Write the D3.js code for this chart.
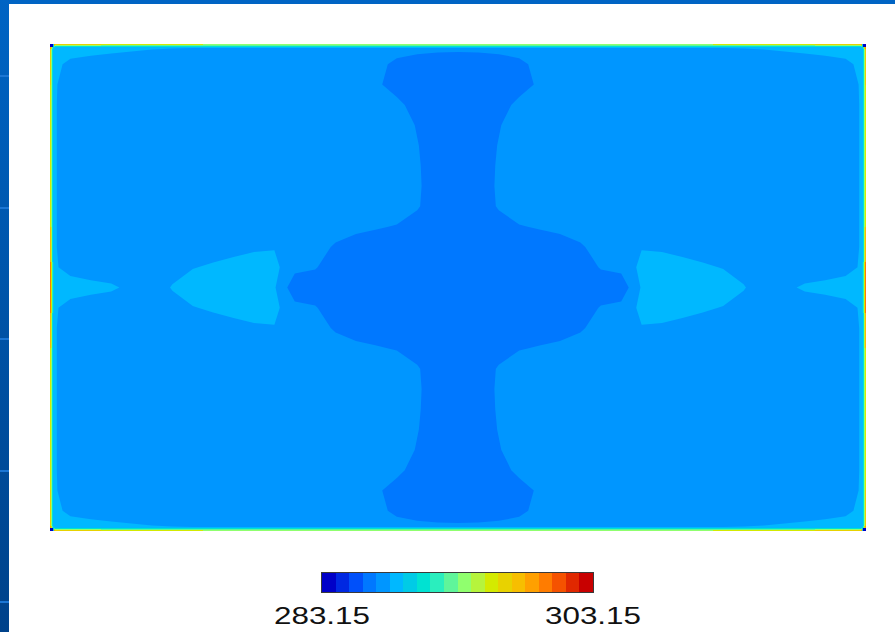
<!DOCTYPE html>
<html>
<head>
<meta charset="utf-8">
<script src="https://cdn.jsdelivr.net/npm/d3@7"></script>
<style>
  html, body { margin: 0; padding: 0; background: #fff; }
  svg { display: block; }
</style>
</head>
<body>
<svg id="chart" width="895" height="632"></svg>
<script>
// Enclosure size (m) and spacing of the temperature nodes (m).
const spanX = 8.0;
const spanY = 4.8;
const nodeStep = 0.2;

// Nodal temperatures (K). The field is symmetric about both mid-planes, so one quarter
// is stored: rows run from the top wall down to mid-height, columns from the left wall
// to mid-width.
const quarterT = [
  [288.8, 288.49, 288.43, 288.39, 288.36, 288.30, 288.28, 288.275, 288.2, 287.65, 287.65, 287.65, 287.65, 287.65, 287.65, 287.65, 287.65, 287.5, 287.4, 287.36, 287.35],
  [288.36, 288.02, 287.95, 287.875, 287.8, 287.75, 287.7, 287.65, 287.65, 287.65, 287.65, 287.65, 287.65, 287.65, 287.65, 287.65, 287.34, 287.0, 286.9, 286.86, 286.85],
  [288.36, 287.78, 287.65, 287.65, 287.65, 287.65, 287.65, 287.65, 287.65, 287.65, 287.65, 287.65, 287.65, 287.65, 287.65, 287.65, 287.25, 286.9, 286.6, 286.4, 286.4],
  [288.4, 287.65, 287.65, 287.65, 287.65, 287.65, 287.65, 287.65, 287.65, 287.65, 287.65, 287.65, 287.65, 287.65, 287.65, 287.65, 287.6, 287.31, 286.9, 286.4, 286.4],
  [288.4, 287.65, 287.65, 287.65, 287.65, 287.65, 287.65, 287.65, 287.65, 287.65, 287.65, 287.65, 287.65, 287.65, 287.65, 287.65, 287.65, 287.59, 287.09, 286.575, 286.4],
  [288.4, 287.65, 287.65, 287.65, 287.65, 287.65, 287.65, 287.65, 287.65, 287.65, 287.65, 287.65, 287.65, 287.65, 287.65, 287.65, 287.65, 287.65, 287.19, 286.7, 286.4],
  [288.4, 287.65, 287.65, 287.65, 287.65, 287.65, 287.65, 287.65, 287.65, 287.65, 287.65, 287.65, 287.65, 287.65, 287.65, 287.65, 287.65, 287.65, 287.24, 286.725, 286.4],
  [288.4, 287.65, 287.65, 287.65, 287.65, 287.65, 287.65, 287.65, 287.65, 287.65, 287.65, 287.65, 287.65, 287.65, 287.65, 287.65, 287.65, 287.65, 287.26, 286.75, 286.4],
  [288.4, 287.65, 287.65, 287.65, 287.65, 287.65, 287.65, 287.65, 287.65, 287.65, 287.65, 287.65, 287.65, 287.65, 287.65, 287.65, 287.65, 287.59, 287.225, 286.71, 286.4],
  [288.4, 287.65, 287.65, 287.65, 287.65, 287.65, 287.65, 287.65, 287.65, 287.65, 287.65, 287.65, 287.65, 287.65, 287.5, 287.32, 287.22, 287.1, 286.825, 286.525, 286.4],
  [288.4, 287.65, 287.65, 287.65, 287.65, 287.65, 287.65, 287.65, 287.765, 287.9, 288.025, 288.1, 287.8, 287.47, 287.05, 286.85, 286.72, 286.6, 286.4, 286.4, 286.4],
  [288.3, 287.94, 287.83, 287.73, 287.65, 287.65, 287.83, 288.11, 288.265, 288.4, 288.525, 288.4, 287.45, 287.21, 286.7, 286.4, 286.4, 286.4, 286.4, 286.4, 286.4],
  [288.8, 288.43, 288.33, 288.25, 288.0, 287.7, 288.21, 288.55, 288.75, 288.8, 288.7, 288.25, 286.5, 286.675, 286.48, 286.4, 286.4, 286.4, 286.4, 286.4, 286.4]
];

// Temperatures in the thin boundary layers next to the walls (K), one row per layer
// from the wall surface inwards. Stations (m) run from a corner to mid-span.
const topWallStations = [0, 0.05, 0.5, 1.5, 4.0];
const topWallLayers = [
  [298.6, 296.8, 295.3, 293.8],
  [295.5, 293.5, 292.5, 292.2],
  [291.5, 290.5, 290.2, 290.2],
  [289.5, 288.6, 288.6, 288.6]
];
const sideWallStations = [0, 0.05, 0.4, 1.8, 2.15, 2.4];
const sideWallLayers = [
  [298.6, 296.8, 295.5, 297.5, 299.6],
  [295.5, 293.8, 293.5, 294.5, 295.5],
  [291.5, 290.5, 290.3, 290.8, 291.5],
  [289.5, 288.6, 288.6, 288.7, 289.2]
];
const cornerT = 283.6;

// Colour map: 20 bands of 1 K between 283.15 and 303.15.
const levelMin = 283.15;
const levelMax = 303.15;
const bandLevels = [283.15, 284.15, 285.15, 286.15, 287.15, 288.15, 289.15, 290.15, 291.15, 292.15,
                    293.15, 294.15, 295.15, 296.15, 297.15, 298.15, 299.15, 300.15, 301.15, 302.15];
const bandColors = ["#0000c8", "#0028e2", "#0050fa", "#0078ff", "#0096ff", "#00b8ff", "#00cbe6", "#00e2d2",
                    "#2aeebe", "#5ff59a", "#90ff6e", "#b6f43c", "#d4ea00", "#e8d200", "#f7be00", "#ffa000",
                    "#ff7c00", "#f55200", "#e02800", "#c80000"];
const tickLabels = ["283.15", "303.15"];

const svg = d3.select("#chart");
const defs = svg.append("defs");

// Slide frame
const frameGrad = defs.append("linearGradient").attr("id", "frameGrad")
  .attr("x1", 0).attr("y1", 0).attr("x2", 0).attr("y2", 1);
frameGrad.append("stop").attr("offset", 0).attr("stop-color", "#0064c4");
frameGrad.append("stop").attr("offset", 1).attr("stop-color", "#00428a");
svg.append("rect").attr("width", 895).attr("height", 632).attr("fill", "#ffffff");
svg.append("rect").attr("x", 0).attr("y", 0).attr("width", 895).attr("height", 4).attr("fill", "#0064c4");
svg.append("rect").attr("x", 0).attr("y", 0).attr("width", 9).attr("height", 632).attr("fill", "url(#frameGrad)");
svg.append("g").selectAll("rect").data([75, 207, 338, 470, 601]).join("rect")
  .attr("x", 0).attr("y", d => d).attr("width", 9).attr("height", 2)
  .attr("fill", "#1c76d4");

// Plot scales
const plot = { left: 50, right: 866, top: 44, bottom: 531 };
const x = d3.scaleLinear().domain([0, spanX]).range([plot.left, plot.right]);
const y = d3.scaleLinear().domain([0, spanY]).range([plot.bottom, plot.top]);
const color = d3.scaleThreshold().domain(bandLevels.slice(1)).range(bandColors);

defs.append("clipPath").attr("id", "plotClip")
  .append("rect")
  .attr("x", plot.left).attr("y", plot.top)
  .attr("width", plot.right - plot.left).attr("height", plot.bottom - plot.top);

// Full nodal grid, unfolded from the stored quarter.
const nRows = quarterT.length * 2 - 1;
const nCols = quarterT[0].length * 2 - 1;
const grid = new Array(nRows * nCols);
for (let j = 0; j < nRows; j++) {
  const jq = Math.min(j, nRows - 1 - j);
  for (let i = 0; i < nCols; i++) {
    const iq = Math.min(i, nCols - 1 - i);
    grid[j * nCols + i] = quarterT[jq][iq];
  }
}

// Filled isotherm bands
const bands = d3.contours().size([nCols, nRows]).thresholds(bandLevels)(grid);
const gridToPlot = d3.geoTransform({
  point(gx, gy) {
    this.stream.point(x((gx - 0.5) * nodeStep), y(spanY - (gy - 0.5) * nodeStep));
  }
});
const bandPath = d3.geoPath(gridToPlot);

const field = svg.append("g").attr("clip-path", "url(#plotClip)");
field.selectAll("path")
  .data(bands.filter(b => b.coordinates.length))
  .join("path")
  .attr("d", bandPath)
  .attr("fill-rule", "evenodd")
  .attr("fill", d => color(d.value));

// Wall boundary layers
function spanSegments(stations, temps, total) {
  const segs = [];
  for (let k = 0; k < temps.length; k++) {
    const a = stations[k], b = stations[k + 1];
    segs.push({ a, b, t: temps[k] });
    segs.push({ a: total - b, b: total - a, t: temps[k] });
  }
  return segs;
}

const walls = svg.append("g").attr("shape-rendering", "crispEdges");
topWallLayers.forEach((temps, layer) => {
  const segs = spanSegments(topWallStations, temps, spanX);
  [plot.top + layer, plot.bottom - 1 - layer].forEach(py => {
    walls.append("g").selectAll("rect").data(segs).join("rect")
      .attr("x", d => x(d.a))
      .attr("width", d => x(d.b) - x(d.a))
      .attr("y", py).attr("height", 1)
      .attr("fill", d => color(d.t));
  });
});
sideWallLayers.forEach((temps, layer) => {
  const segs = spanSegments(sideWallStations, temps, spanY);
  [plot.left + layer, plot.right - 1 - layer].forEach(px => {
    walls.append("g").selectAll("rect").data(segs).join("rect")
      .attr("y", d => y(spanY - d.a))
      .attr("height", d => y(spanY - d.b) - y(spanY - d.a))
      .attr("x", px).attr("width", 1)
      .attr("fill", d => color(d.t));
  });
});

// Corner nodes
const corners = [[0, 0], [spanX, 0], [0, spanY], [spanX, spanY]];
walls.append("g").selectAll("rect").data(corners).join("rect")
  .attr("x", d => Math.min(x(d[0]), plot.right - 3))
  .attr("y", d => Math.min(y(d[1]), plot.bottom - 3))
  .attr("width", 3).attr("height", 3)
  .attr("fill", color(cornerT));

// Colour bar
const bar = { left: 322, right: 593, top: 573, height: 19 };
const barBand = d3.scaleBand().domain(bandLevels).range([bar.left, bar.right]);
const barScale = d3.scaleLinear().domain([levelMin, levelMax]).range([bar.left, bar.right]);
const barG = svg.append("g");
barG.append("g").attr("shape-rendering", "crispEdges")
  .selectAll("rect").data(bandLevels).join("rect")
  .attr("x", d => barBand(d))
  .attr("width", barBand.bandwidth() + 0.5)
  .attr("y", bar.top).attr("height", bar.height)
  .attr("fill", d => color(d));
barG.append("rect")
  .attr("x", bar.left - 0.5).attr("y", bar.top - 0.5)
  .attr("width", bar.right - bar.left + 1).attr("height", bar.height + 1)
  .attr("fill", "none").attr("stroke", "#3a3a3a").attr("stroke-width", 1);

barG.selectAll("text").data([levelMin, levelMax]).join("text")
  .attr("x", d => barScale(d))
  .attr("y", 624)
  .attr("text-anchor", "middle")
  .attr("font-family", "'Liberation Sans', Arial, sans-serif")
  .attr("font-size", 24)
  .attr("textLength", 96)
  .attr("lengthAdjust", "spacingAndGlyphs")
  .attr("fill", "#111")
  .text((d, i) => tickLabels[i]);
</script>
</body>
</html>
